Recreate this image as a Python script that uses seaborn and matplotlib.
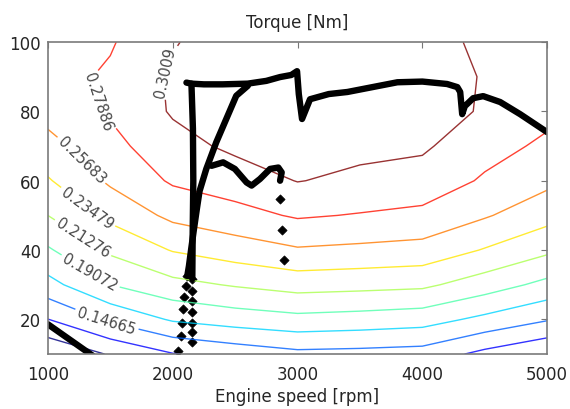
import numpy as np
import matplotlib
matplotlib.use("Agg")
import matplotlib.pyplot as plt
import seaborn as sns

# efficiency map (rows = torque, cols = speed)
speed = [1000, 1500, 2000, 2500, 3000, 3500, 4000, 4500, 5000]
torque = [10, 20, 30, 40, 50, 60, 70, 80, 90, 100]
eff = [
    [0.0828, 0.1046, 0.1235, 0.1330, 0.1412, 0.1398, 0.1374, 0.1185, 0.1037],
    [0.1242, 0.1506, 0.1713, 0.1791, 0.1843, 0.1817, 0.1780, 0.1632, 0.1484],
    [0.1612, 0.1907, 0.2064, 0.2147, 0.2216, 0.2196, 0.2172, 0.2017, 0.1846],
    [0.1881, 0.2167, 0.2361, 0.2460, 0.2546, 0.2520, 0.2491, 0.2333, 0.2172],
    [0.2128, 0.2405, 0.2621, 0.2714, 0.2813, 0.2775, 0.2736, 0.2590, 0.2427],
    [0.2328, 0.2604, 0.2817, 0.2901, 0.3016, 0.2963, 0.2919, 0.2762, 0.2621],
    [0.2496, 0.2720, 0.2934, 0.3053, 0.3086, 0.3064, 0.3042, 0.2866, 0.2749],
    [0.2645, 0.2815, 0.3031, 0.3108, 0.3141, 0.3119, 0.3075, 0.2994, 0.2844],
    [0.2701, 0.2822, 0.3042, 0.3130, 0.3163, 0.3141, 0.3086, 0.2998, 0.2888],
    [0.2712, 0.2767, 0.2994, 0.3119, 0.3163, 0.3130, 0.3075, 0.2974, 0.2888],
]
levels = [0.10259, 0.12462, 0.14665, 0.16869, 0.19072,
          0.21276, 0.23479, 0.25683, 0.27886, 0.3009]
# where the labels sit (speed, torque), one per labelled line
label_pos = [(1473, 20), (1337, 33.5), (1281, 43.5), (1313, 52),
             (1257, 65.5), (1420, 83), (1975, 91)]

# operating points
low_speed = [1000, 1360]
low_torque = [18.6, 9.5]

dots_left_speed = [2045, 2064, 2072, 2080, 2091, 2104, 2117]
dots_left_torque = [11.0, 15.3, 19.1, 23.0, 26.4, 29.7, 32.6]
dots_right_speed = [2157, 2157, 2157, 2157, 2157, 2157, 2157]
dots_right_torque = [13.4, 16.3, 19.1, 22.2, 25.4, 28.3, 31.7]

ramp_speed = [2117, 2130, 2148, 2170, 2194, 2215, 2269, 2349, 2429, 2509, 2602]
ramp_torque = [32.6, 35.4, 40.3, 46, 52, 57, 63.4, 71.1, 77.8, 84.5, 87.4]

column_speed = [2157, 2160, 2165, 2162, 2150]
column_torque = [31.7, 45, 60, 75, 88]

top_speed = [2110, 2150, 2250, 2400, 2600, 2750, 2860, 2950, 2996, 3010, 3036,
             3100, 3250, 3400, 3600, 3800, 4000, 4198, 4280, 4303, 4319, 4340,
             4407, 4487, 4623, 4783, 5000]
top_torque = [88.3, 88, 87.8, 87.8, 88, 88.8, 89.9, 90.5, 91.6, 85, 77.8,
              83.5, 85, 85.6, 87, 88.4, 88.6, 87.9, 87, 85.6, 79.2, 81.5,
              83.8, 84.4, 82.7, 79.2, 74]

loop_speed = [2311, 2404, 2498, 2592, 2632, 2699, 2780, 2846, 2873, 2860]
loop_torque = [64.3, 65.3, 63.4, 59.5, 58.6, 60.5, 63.4, 63.8, 62.4, 60]

drop_speed = [2860, 2876, 2892]
drop_torque = [54.7, 45.8, 37.1]

sns.set_style("white")
plt.rcParams['font.family'] = ['DejaVu Sans']

fig = plt.figure(figsize=(5.7, 4.1), dpi=100)
ax = fig.add_axes([0.084, 0.134, 0.876, 0.761])

X, Y = np.meshgrid(speed, torque)
cs = ax.contour(X, Y, np.array(eff), levels=levels, cmap='jet',
                linewidths=1.0, alpha=0.8)
ax.clabel(cs, manual=label_pos, fmt=lambda v: f"{v:.5g}",
          colors='#1a1a1a', fontsize=10.5, inline=True, inline_spacing=3)

line_kw = dict(color='black', lw=4.6, sort=False, estimator=None, ax=ax)
sns.lineplot(x=low_speed, y=low_torque, **line_kw)
sns.lineplot(x=ramp_speed, y=ramp_torque, **line_kw)
sns.lineplot(x=column_speed, y=column_torque, **line_kw)
sns.lineplot(x=top_speed, y=top_torque, **line_kw)
sns.lineplot(x=loop_speed, y=loop_torque, **line_kw)

dot_kw = dict(color='black', marker='D', s=22, edgecolor='black', linewidth=0.5, ax=ax)
sns.scatterplot(x=dots_left_speed, y=dots_left_torque, **dot_kw)
sns.scatterplot(x=dots_right_speed, y=dots_right_torque, **dot_kw)
sns.scatterplot(x=drop_speed, y=drop_torque, **dot_kw)

ax.set_xlim(1000, 5000)
ax.set_ylim(10, 100)
ax.set_xticks([1000, 2000, 3000, 4000, 5000])
ax.set_yticks([20, 40, 60, 80, 100])
ax.tick_params(direction='in', top=True, right=True, length=4, width=0.8,
               color='#777777', labelsize=12, labelcolor='#262626')
ax.tick_params(axis='x', pad=8)
ax.tick_params(axis='y', pad=5)
for sp in ax.spines.values():
    sp.set_color('#7a7a7a')
    sp.set_linewidth(1.2)

ax.set_title('Torque [Nm]', fontsize=12, color='#262626', pad=11)
ax.set_xlabel('Engine speed [rpm]', fontsize=12, color='#262626', labelpad=3)
ax.set_ylabel('')

fig.savefig('out.png', dpi=100)
